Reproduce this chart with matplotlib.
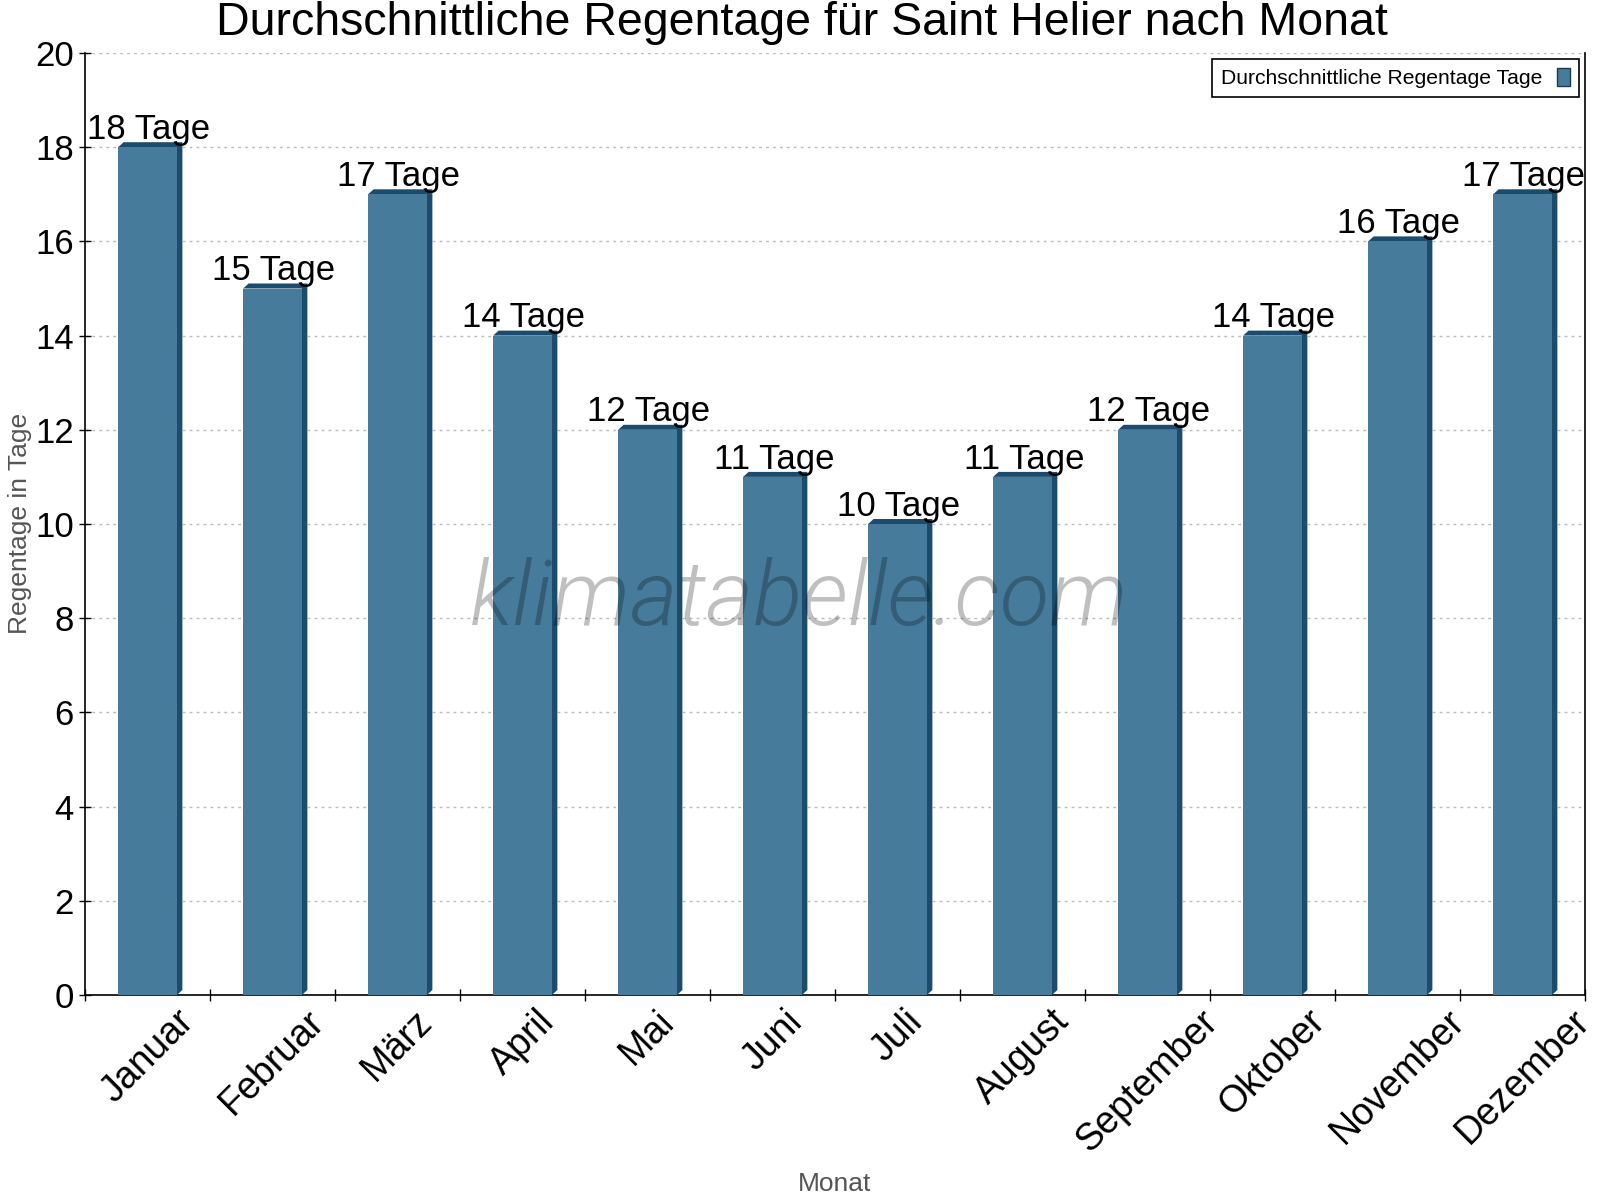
import matplotlib
matplotlib.use("Agg")
import matplotlib.pyplot as plt
from matplotlib.patches import Polygon, Patch
from matplotlib.transforms import IdentityTransform
import numpy as np

months = ["Januar", "Februar", "März", "April", "Mai", "Juni", "Juli",
          "August", "September", "Oktober", "November", "Dezember"]
rain_days = [18, 15, 17, 14, 12, 11, 10, 11, 12, 14, 16, 17]
yticks = [0, 2, 4, 6, 8, 10, 12, 14, 16, 18, 20]

FRONT = "#467b9c"
SIDE = "#1b4b6d"

plt.rcParams["font.family"] = ["Liberation Sans", "DejaVu Sans"]

fig = plt.figure(figsize=(16, 12), dpi=100)
ax = fig.add_axes([85 / 1600, 205 / 1200, 1500 / 1600, 942 / 1200])

x = np.arange(len(months))
ax.set_xlim(-0.5, len(months) - 0.5)
ax.set_ylim(0, 20)

width = 0.47
bars = ax.bar(x, rain_days, width=width, color=FRONT, zorder=3, linewidth=0)

# pseudo-3D side and top faces
dx, dy = 5.5, 5.0
for xi, h in zip(x, rain_days):
    x0, x1 = xi - width / 2, xi + width / 2
    p = ax.transData.transform([(x0, h), (x1, h), (x1, 0)])
    verts = [p[0], p[0] + (dx, dy), p[1] + (dx, dy), p[2] + (dx, dy), p[2], p[1]]
    ax.add_patch(Polygon(verts, closed=True, facecolor=SIDE, edgecolor="none",
                         transform=IdentityTransform(), zorder=2.9))

for xi, h in zip(x, rain_days):
    ax.annotate(f"{h} Tage", (xi, h), xytext=(1, 6), textcoords="offset points",
                ha="center", va="baseline", fontsize=25, color="black", zorder=5)

ax.set_yticks(yticks)
ax.set_yticklabels([str(v) for v in yticks], fontsize=25)
ax.set_xticks(x)
ax.set_xticklabels(months, rotation=45, ha="center", va="top", fontsize=27)
ax.tick_params(axis="x", which="major", length=0, pad=6)
ax.set_xticks(np.arange(-0.5, len(months)), minor=True)
ax.tick_params(axis="x", which="minor", direction="inout", length=8, width=1)
ax.tick_params(axis="y", direction="inout", length=8, width=1, pad=4)

ax.yaxis.grid(True, linestyle=(0, (2, 3)), color="#bbbbbb", linewidth=1, zorder=0)
ax.set_axisbelow(True)
ax.spines["top"].set_visible(False)
for s in ["left", "bottom", "right"]:
    ax.spines[s].set_color("black")
    ax.spines[s].set_linewidth(1.2)

fig.text(20 / 1600, 1 - 523 / 1200, "Regentage in Tage", rotation=90,
         ha="center", va="center", fontsize=19, color="#555555")
fig.text(835 / 1600, 1 - 1184 / 1200, "Monat", ha="center", va="center",
         fontsize=19, color="#555555")
fig.text(802 / 1600, 1 - 23 / 1200,
         "Durchschnittliche Regentage für Saint Helier nach Monat",
         ha="center", va="center", fontsize=33.5, color="black")

fig.text(799 / 1600, 1 - 625 / 1200, "klimatabelle.com", ha="center", va="baseline",
         fontsize=65.5, style="italic", fontweight=300,
         family=["Roboto", "Liberation Sans", "DejaVu Sans"],
         color="black", alpha=0.25, zorder=10)

handle = Patch(facecolor=FRONT, edgecolor="#1a3a50", linewidth=1)
leg = ax.legend([handle], ["Durchschnittliche Regentage Tage"], loc="upper right",
                fontsize=15.2, markerfirst=False, frameon=True, fancybox=False,
                edgecolor="black", framealpha=1, handlelength=0.6, handleheight=0.9,
                borderaxespad=0.3, borderpad=0.42, handletextpad=0.7)
leg.get_frame().set_linewidth(1.2)

fig.savefig("out.png", dpi=100)
